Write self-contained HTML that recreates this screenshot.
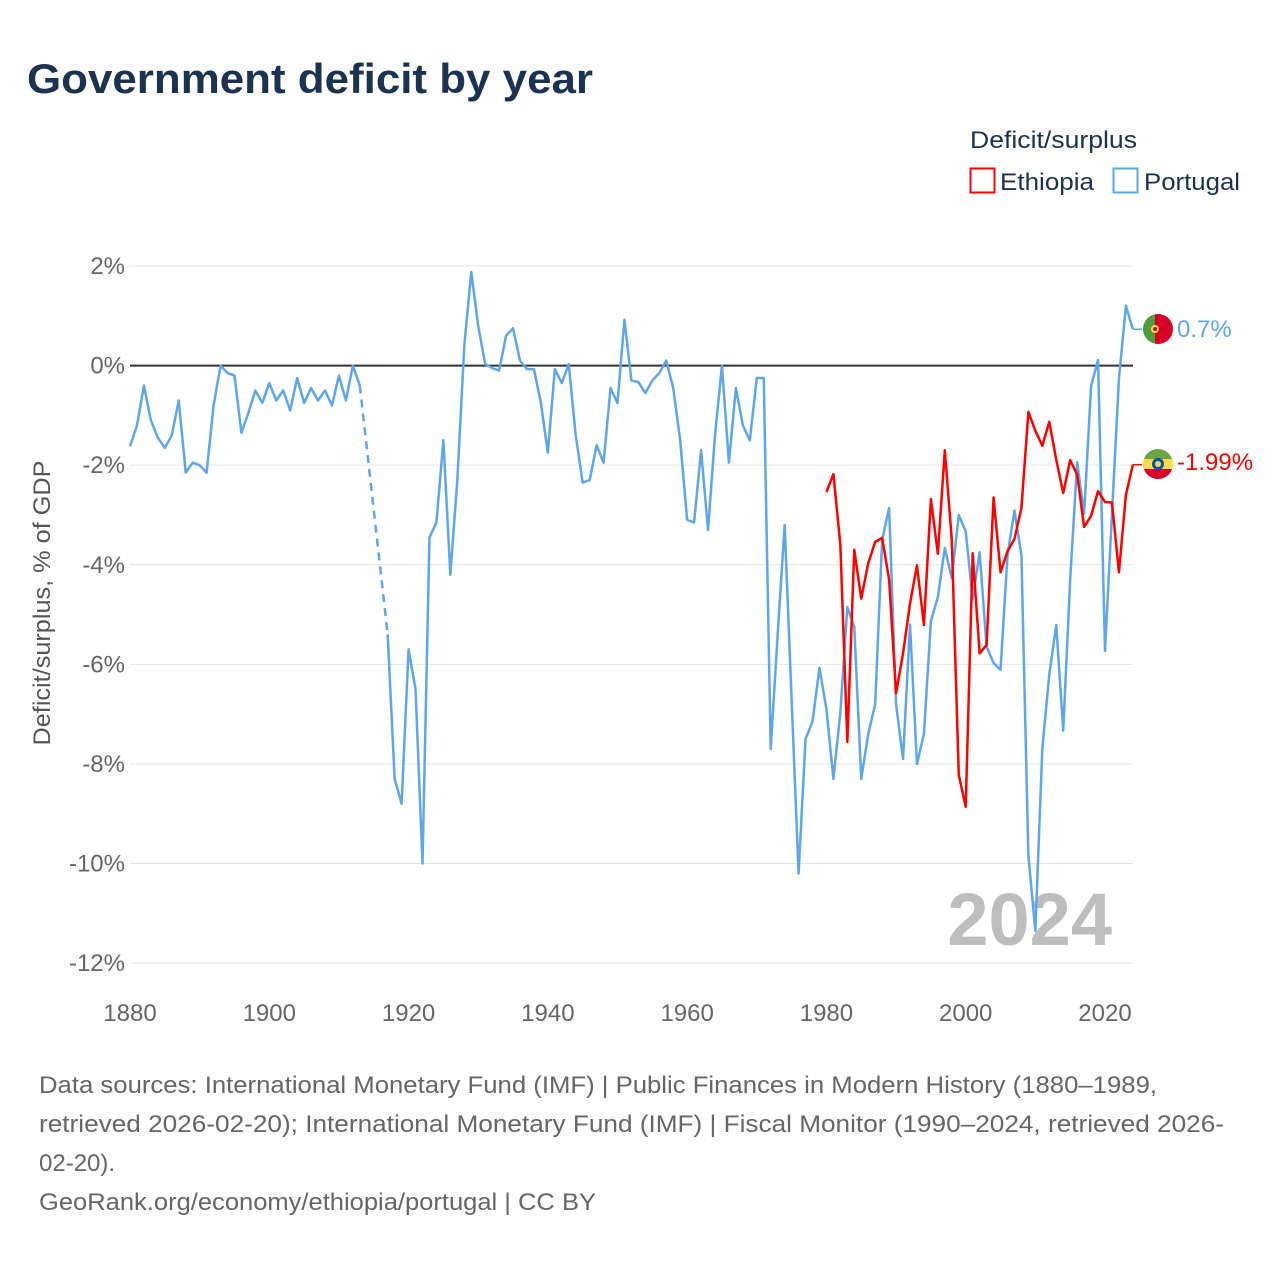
<!DOCTYPE html>
<html><head><meta charset="utf-8"><style>
html,body{margin:0;padding:0;background:#fff;}
svg{display:block;font-family:"Liberation Sans",sans-serif;}
</style></head><body>
<svg id="chart" width="1280" height="1280" viewBox="0 0 1280 1280" xmlns="http://www.w3.org/2000/svg">
<rect width="1280" height="1280" fill="#fff"/>
<text x="27" y="93" font-size="42" font-weight="bold" fill="#1b3250" textLength="566" lengthAdjust="spacingAndGlyphs">Government deficit by year</text>
<g>
<text x="970" y="148" font-size="24" fill="#1b3250" textLength="167" lengthAdjust="spacingAndGlyphs">Deficit/surplus</text>
<g><rect x="970.5" y="168.5" width="24" height="24" fill="none" stroke="#ff0000" stroke-width="2"/><text x="1000" y="190" font-size="24" fill="#1b3250" textLength="94" lengthAdjust="spacingAndGlyphs">Ethiopia</text></g>
<g><rect x="1113.5" y="168.5" width="24" height="24" fill="none" stroke="#5ea6ea" stroke-width="2"/><text x="1144" y="190" font-size="24" fill="#1b3250" textLength="96" lengthAdjust="spacingAndGlyphs">Portugal</text></g>
</g>
<g id="grid"></g>
<g id="axes"></g>
<text x="1112" y="945" font-size="74" font-weight="bold" fill="#bdbdbd" text-anchor="end">2024</text>
<g id="series"></g>
<text transform="translate(50,603) rotate(-90)" font-size="24" fill="#555" text-anchor="middle" textLength="285" lengthAdjust="spacingAndGlyphs">Deficit/surplus, % of GDP</text>
<g id="end-labels">
<g>
<clipPath id="cpP"><circle cx="1158" cy="329" r="15"/></clipPath>
<g clip-path="url(#cpP)"><rect x="1143" y="314" width="12" height="30" fill="#4b9c3a"/><rect x="1155" y="314" width="18" height="30" fill="#d80027"/></g>
<circle cx="1155" cy="329" r="4" fill="#ffda44"/><circle cx="1155" cy="329" r="2" fill="#d80027"/>
</g>
<text x="1177" y="337" font-size="24" fill="#5ea6ea">0.7%</text>
<g>
<clipPath id="cpE"><circle cx="1158" cy="464" r="15"/></clipPath>
<g clip-path="url(#cpE)"><rect x="1143" y="449" width="30" height="10" fill="#6da544"/><rect x="1143" y="459" width="30" height="10" fill="#ffda44"/><rect x="1143" y="469" width="30" height="10" fill="#d80027"/></g>
<circle cx="1158" cy="464" r="6" fill="#0052b4"/><circle cx="1158" cy="464" r="3" fill="#ffda44"/>
</g>
<text x="1177" y="470" font-size="24" fill="#ff0000">-1.99%</text>
</g>
<g font-size="24" fill="#666">
<text x="39" y="1093" textLength="1118" lengthAdjust="spacingAndGlyphs">Data sources: International Monetary Fund (IMF) | Public Finances in Modern History (1880–1989,</text>
<text x="39" y="1132" textLength="1185" lengthAdjust="spacingAndGlyphs">retrieved 2026-02-20); International Monetary Fund (IMF) | Fiscal Monitor (1990–2024, retrieved 2026-</text>
<text x="39" y="1171">02-20).</text>
<text x="39" y="1210" textLength="557" lengthAdjust="spacingAndGlyphs">GeoRank.org/economy/ethiopia/portugal | CC BY</text>
</g>
</svg>
<script>
const yTicks = [2, 0, -2, -4, -6, -8, -10, -12];
const xTicks = [1880, 1900, 1920, 1940, 1960, 1980, 2000, 2020];
const portugalStart = 1880;
const portugalValues = [-1.62,-1.2,-0.4,-1.1,-1.45,-1.65,-1.4,-0.7,-2.15,-1.95,-2.0,-2.15,-0.8,0,-0.15,-0.2,-1.35,-0.95,-0.5,-0.75,-0.35,-0.7,-0.5,-0.9,-0.25,-0.75,-0.45,-0.7,-0.5,-0.8,-0.2,-0.7,0,-0.4,null,null,null,-5.4,-8.3,-8.8,-5.7,-6.5,-10,-3.45,-3.15,-1.5,-4.2,-2.3,0.4,1.88,0.8,0.03,-0.05,-0.1,0.6,0.75,0.1,-0.07,-0.07,-0.75,-1.75,-0.07,-0.35,0.03,-1.4,-2.35,-2.3,-1.6,-1.95,-0.45,-0.75,0.92,-0.3,-0.33,-0.55,-0.3,-0.15,0.1,-0.45,-1.5,-3.1,-3.15,-1.7,-3.3,-1.4,0,-1.95,-0.45,-1.2,-1.5,-0.25,-0.25,-7.7,-5.4,-3.2,-6.7,-10.2,-7.5,-7.15,-6.07,-6.9,-8.3,-6.97,-4.85,-5.25,-8.3,-7.4,-6.8,-3.5,-2.86,-6.8,-7.9,-5.2,-8.0,-7.4,-5.13,-4.65,-3.66,-4.27,-3.0,-3.33,-4.69,-3.75,-5.65,-5.97,-6.11,-3.81,-2.91,-3.81,-9.85,-11.35,-7.69,-6.2,-5.21,-7.33,-4.3,-1.94,-2.98,-0.41,0.11,-5.73,-2.98,-0.27,1.2,0.73];
const ethiopiaStart = 1980;
const ethiopiaValues = [-2.54,-2.18,-3.6,-7.56,-3.7,-4.68,-3.97,-3.54,-3.46,-4.3,-6.58,-5.78,-4.78,-4.01,-5.21,-2.68,-3.78,-1.7,-3.5,-8.22,-8.86,-3.77,-5.78,-5.61,-2.65,-4.15,-3.73,-3.48,-2.86,-0.93,-1.31,-1.61,-1.13,-1.89,-2.56,-1.9,-2.19,-3.24,-3.02,-2.52,-2.74,-2.75,-4.15,-2.6,-1.99];

const NS = 'http://www.w3.org/2000/svg';
const X0 = 130, X1 = 1105, Y0 = 365.6, YS = 49.79;
function xs(year){ return X0 + (year - 1880) * (X1 - X0) / 140; }
function ys(v){ return Y0 - v * YS; }
function mk(tag, attrs, parent){ const e = document.createElementNS(NS, tag); for (const k in attrs) e.setAttribute(k, attrs[k]); parent.appendChild(e); return e; }

const grid = document.getElementById('grid');
const axes = document.getElementById('axes');
yTicks.forEach(t => {
  const l = mk('line', {x1:130, x2:1133, y1:ys(t), y2:ys(t), stroke: t===0 ? '#333' : '#e4e4e4', 'stroke-width': t===0 ? 2 : 1}, t===0 ? axes : grid);
  
  
  const tx = mk('text', {x:125, y:ys(t)+8, 'font-size':24, fill:'#666', 'text-anchor':'end'}, axes);
  tx.textContent = t + '%';
  
  
});
xTicks.forEach(t => {
  const tx = mk('text', {x:xs(t), y:1021, 'font-size':24, fill:'#666', 'text-anchor':'middle'}, axes);
  tx.textContent = t;
  
  
});

const series = document.getElementById('series');
function drawSeries(values, start, color, name){
  let segs = [], cur = [];
  values.forEach((v, i) => {
    if (v === null) { if (cur.length) segs.push(cur); cur = []; }
    else cur.push([xs(start + i), ys(v)]);
  });
  if (cur.length) segs.push(cur);
  segs.forEach(s => {
    const p = mk('polyline', {points: s.map(q => q.join(',')).join(' '), fill:'none', stroke:color, 'stroke-width':2.5, 'stroke-linejoin':'round'}, series);
    
    
  });
  for (let k = 0; k + 1 < segs.length; k++) {
    const a = segs[k][segs[k].length-1], b = segs[k+1][0];
    const d = mk('line', {x1:a[0], y1:a[1], x2:b[0], y2:b[1], stroke:color, 'stroke-width':2.5, 'stroke-dasharray':'8,6'}, series);
    
    
  }
  const last = values[values.length-1];
  const e = mk('line', {x1:xs(start+values.length-1), y1:ys(last), x2:1142, y2:ys(last), stroke:color, 'stroke-width':1.5}, series);
  
  
}
drawSeries(portugalValues, portugalStart, '#5ea6ea', 'portugal');
drawSeries(ethiopiaValues, ethiopiaStart, '#ff0000', 'ethiopia');
</script>
</body></html>
